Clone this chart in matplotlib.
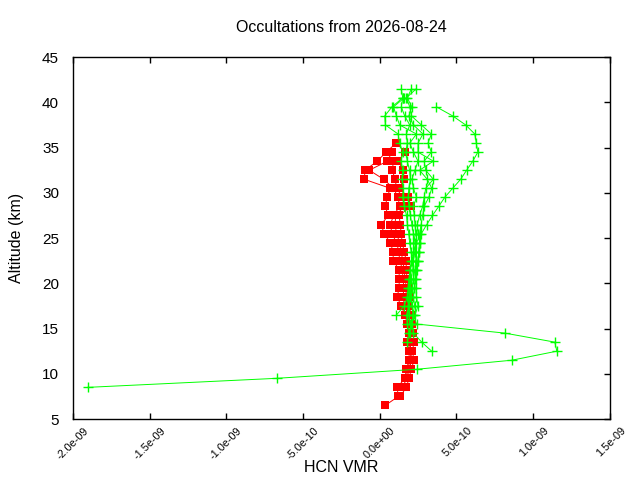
import matplotlib
matplotlib.use("Agg")
import matplotlib.pyplot as plt
from matplotlib.transforms import ScaledTranslation

plt.rcParams['font.family'] = ['Liberation Sans', 'DejaVu Sans']

# altitude grid of the retrievals (km)
ALT = [6.5, 7.5, 8.5, 9.5, 10.5, 11.5, 12.5, 13.5, 14.5, 15.5, 16.5, 17.5,
       18.5, 19.5, 20.5, 21.5, 22.5, 23.5, 24.5, 25.5, 26.5, 27.5, 28.5, 29.5,
       30.5, 31.5, 32.5, 33.5, 34.5, 35.5, 36.5, 37.5, 38.5, 39.5, 40.5, 41.5]

# HCN VMR profiles, units of 1e-10; (start altitude, values)
red_profiles = [
    (6.5, [0.36, 1.21, 1.14, 1.66, 1.73, 1.92, 1.92, 1.79, 1.92, 1.79, 1.66, 1.40,
           1.14, 1.27, 1.27, 1.27, 0.88, 0.88, 0.69, 0.29, 0.10, 0.56, 0.36, 0.49,
           0.69, -1.01, -0.95, -0.16, 0.42, 1.08]),
    (7.5, [1.34, 1.73, 1.92, 2.05, 2.25, 2.12, 2.25, 2.18, 2.12, 2.05, 1.92, 1.92,
           1.86, 1.79, 1.73, 1.73, 1.60, 1.47, 1.40, 1.34, 1.27, 2.05, 1.86, 1.27,
           1.60, 1.53, 1.21, 1.66]),
    (8.5, [1.45, 1.8, 1.9, 2.1, 2.0, 2.0, 2.05, 1.95, 1.85, 1.65, 1.5, 1.6, 1.5,
           1.5, 1.3, 1.25, 1.1, 0.8, 0.7, 0.9, 1.3, 1.2, 0.9, 0.26, -0.68, 0.5, 0.8]),
    (9.5, [1.75, 1.8, 2.0, 2.05, 1.9, 2.0, 2.0, 1.9, 1.8, 1.7, 1.75, 1.65, 1.6,
           1.5, 1.4, 1.3, 1.1, 1.0, 1.05, 1.6, 1.5, 1.1, 1.01, 0.82, 0.9]),
]

green_profiles = [
    (8.5, [-19.05, -6.72, 2.41, 8.61, 11.55, 11.42, 8.15, 2.41, 2.2, 2.1, 2.05,
           2.1, 2.2, 2.3, 2.35, 2.4, 2.3, 2.2, 2.1, 2.0, 1.9, 1.85, 1.9, 2.0, 1.95,
           1.8, 1.7, 1.8, 1.74, 1.96, 1.63, 1.41, 1.5]),
    (15.5, [1.95, 1.9, 1.85, 1.9, 1.9, 1.95, 2.0, 2.05, 2.2, 2.4, 2.72, 3.07,
            3.44, 3.85, 4.24, 4.76, 5.28, 5.67, 6.07, 6.4, 6.3, 6.2, 5.61, 4.76, 3.7]),
    (12.5, [3.39, 2.74, 2.2, 2.1, 2.15, 2.28, 2.2, 2.25, 2.3, 2.4, 2.5, 2.55, 2.6,
            2.5, 2.45, 2.6, 2.8, 2.9, 3.0, 3.5, 3.0, 2.9, 3.37, 3.15, 3.37, 2.72,
            2.07, 1.96, 1.74, 2.39]),
    (16.5, [1.09, 1.6, 1.8, 1.85, 1.9, 2.0, 2.1, 2.05, 1.95, 1.9, 1.8, 1.75, 1.6,
            1.5, 1.55, 1.45, 1.5, 1.4, 1.5, 1.3, 1.2, 0.37, 0.33, 0.8, 1.5, 1.41]),
    (14.5, [2.0, 2.05, 2.3, 2.5, 2.4, 2.35, 2.4, 2.45, 2.5, 2.55, 2.6, 2.6, 2.7,
            2.8, 2.9, 3.2, 3.4, 3.1, 2.6, 3.5, 2.5, 2.5, 2.82, 2.2, 1.9, 2.1, 1.8,
            2.07]),
    (13.5, [1.8, 1.9, 1.8, 1.75, 1.9, 2.0, 1.95, 2.05, 2.15, 2.2, 2.3, 2.2, 2.35,
            2.3, 2.25, 2.2, 2.4, 2.2, 2.1, 2.3, 2.5, 2.2, 1.96, 2.4, 1.3, 1.09, 0.9,
            1.6]),
]

x_ticks = [-2.0e-9, -1.5e-9, -1.0e-9, -0.5e-9, 0.0, 0.5e-9, 1.0e-9, 1.5e-9]
y_ticks = [5, 10, 15, 20, 25, 30, 35, 40, 45]


def profile(start, vals):
	i = ALT.index(start)
	alt = ALT[i:i + len(vals)]
	vmr = [v * 1e-10 for v in vals]
	return vmr, alt


fig = plt.figure(figsize=(6.4, 4.8), dpi=100)
ax = fig.add_axes([0.114, 0.127, 0.8387, 0.754])

for start, vals in red_profiles:
	x, y = profile(start, vals)
	ax.plot(x, y, '-', color='#ff0000', lw=0.7, marker='s', ms=5.8, mew=0)

for start, vals in green_profiles:
	x, y = profile(start, vals)
	ax.plot(x, y, '-', color='#00ff00', lw=0.7, marker='+', ms=6.5, mew=1.0)

ax.set_xlim(-2.0e-9, 1.5e-9)
ax.set_ylim(5, 45)
ax.set_xticks(x_ticks)
ax.set_xticklabels([])
# gnuplot-style rotated labels, right end sitting a bit right of the tick
lab_trans = ax.get_xaxis_transform() + ScaledTranslation(14 / 100, -10 / 100, fig.dpi_scale_trans)
for v in x_ticks:
	ax.text(v, 0, "%.1e" % v, transform=lab_trans, rotation=45, ha='right',
	        va='center', rotation_mode='anchor', fontsize=7.8, clip_on=False)
ax.set_yticks(y_ticks)
ax.set_yticklabels([str(v) for v in y_ticks], fontsize=11)
ax.tick_params(axis='x', direction='in', top=True, bottom=True, length=4.5,
               width=1, colors='black')
ax.tick_params(axis='y', direction='in', left=False, right=True, length=4.5,
               width=1, pad=10)
for sp in ax.spines.values():
	sp.set_linewidth(1)

ax.set_xlabel("HCN VMR", fontsize=11.5, labelpad=26)
ax.set_ylabel("Altitude (km)", fontsize=11.5, labelpad=13)
ax.set_title("Occultations from 2026-08-24", fontsize=11.5, pad=18)

fig.savefig("out.png", dpi=100)
